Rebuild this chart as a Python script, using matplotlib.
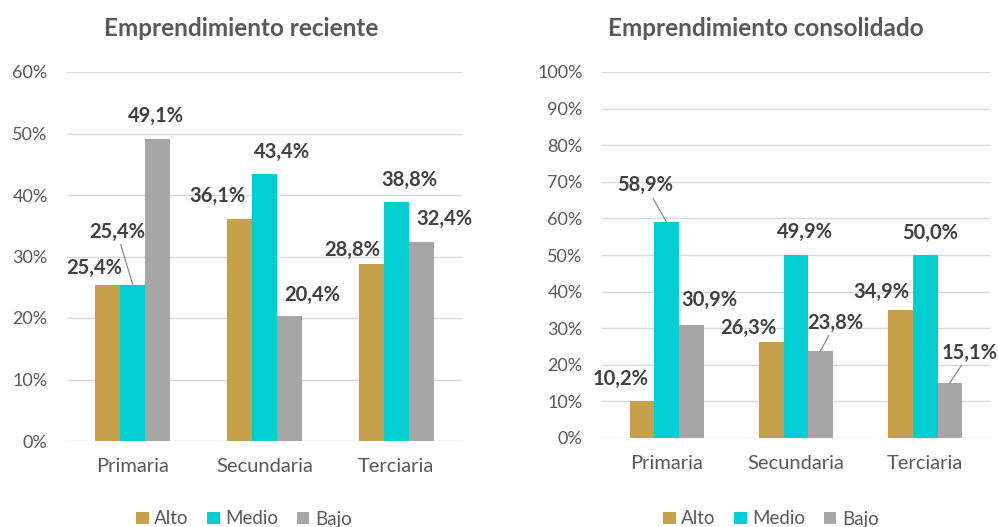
import matplotlib
matplotlib.use("Agg")
import matplotlib.pyplot as plt
from matplotlib.patches import Patch
from matplotlib.ticker import FuncFormatter

plt.rcParams['font.family'] = ['Lato', 'DejaVu Sans']

categories = ["Primaria", "Secundaria", "Terciaria"]
series = ["Alto", "Medio", "Bajo"]
colors = ["#C8A04B", "#00CFD2", "#A6A6A6"]

reciente_alto = [25.4, 36.1, 28.8]
reciente_medio = [25.4, 43.4, 38.8]
reciente_bajo = [49.1, 20.4, 32.4]

consolidado_alto = [10.2, 26.3, 34.9]
consolidado_medio = [58.9, 49.9, 50.0]
consolidado_bajo = [30.9, 23.8, 15.1]

# label offsets in pixels from the top centre of each bar, and whether a leader line is drawn
reciente_offsets = [
    [(-14, 17, False), (-16, 53, True), (-2, 23, False)],
    [(-22, 23, False), (18, 22, False), (23, 21, False)],
    [(-19, 14, False), (13, 22, False), (23, 23, False)],
]
consolidado_offsets = [
    [(-21, 22, False), (-21, 37, True), (18, 25, False)],
    [(-23, 14, False), (9, 23, False), (15, 28, True)],
    [(-19, 18, False), (5, 22, False), (20, 30, True)],
]

W, H = 998, 527
fig = plt.figure(figsize=(W / 100, H / 100), dpi=100)

text_dark = "#404040"
text_mid = "#595959"
bar_w = 0.19


def pct(v, _):
    return f"{int(round(v))}%"


def draw(rect, data, offsets, ymax, title, title_xy, legend_x):
    ax = fig.add_axes(rect)
    for s, (vals, col) in enumerate(zip(data, colors)):
        xs = [i + (s - 1) * bar_w for i in range(len(categories))]
        ax.bar(xs, vals, width=bar_w, color=col, zorder=3)
        for i, v in enumerate(vals):
            dx, dy, leader = offsets[i][s]
            label = f"{v:.1f}%".replace(".", ",")
            kw = {}
            if leader:
                kw["arrowprops"] = dict(arrowstyle="-", color="#7F7F7F", lw=0.8,
                                        shrinkA=0, shrinkB=0)
            ax.annotate(label, xy=(xs[i], v), xytext=(dx, dy),
                        textcoords="offset pixels", ha="center", va="center",
                        fontsize=14.5, fontweight="bold", color=text_dark,
                        zorder=5, **kw)
    ax.set_xlim(-0.5, len(categories) - 0.5)
    ax.set_ylim(0, ymax)
    ax.set_yticks(range(0, ymax + 1, 10))
    ax.yaxis.set_major_formatter(FuncFormatter(pct))
    ax.set_xticks(range(len(categories)))
    ax.set_xticklabels(categories)
    ax.tick_params(axis="both", length=0, colors=text_mid)
    ax.tick_params(axis="y", pad=14, labelsize=13)
    ax.tick_params(axis="x", pad=12, labelsize=14.5)
    for sp in ax.spines.values():
        sp.set_visible(False)
    ax.grid(axis="y", color="#D9D9D9", lw=1.0, zorder=0)
    ax.set_axisbelow(True)
    fig.text(title_xy[0] / W, 1 - title_xy[1] / H, title, ha="center", va="center",
             fontsize=17.5, fontweight="bold", color=text_mid)
    handles = [Patch(facecolor=c, edgecolor="none") for c in colors]
    ax.legend(handles, series, loc="center", bbox_to_anchor=(legend_x / W, 1 - 519 / H),
              bbox_transform=fig.transFigure, ncol=3, frameon=False,
              handlelength=0.65, handleheight=0.65, handletextpad=0.3,
              columnspacing=1.0, fontsize=13.5, labelcolor=text_mid)
    return ax


draw([67 / W, 1 - 441 / H, 395 / W, 369 / H],
     [reciente_alto, reciente_medio, reciente_bajo], reciente_offsets, 60,
     "Emprendimiento reciente", (241, 28), 244)
draw([602 / W, 1 - 438 / H, 388 / W, 366 / H],
     [consolidado_alto, consolidado_medio, consolidado_bajo], consolidado_offsets, 100,
     "Emprendimiento consolidado", (766, 28), 771)

fig.savefig("out.png", dpi=100)
